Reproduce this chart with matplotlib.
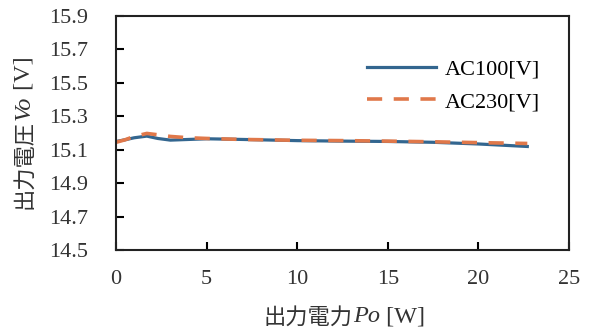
import matplotlib.pyplot as plt
from matplotlib.transforms import IdentityTransform
from matplotlib.font_manager import FontProperties

plt.rcParams['font.family'] = ['Liberation Serif', 'Noto Sans CJK JP']

# AC100[V]
po_100 = [0, 0.5, 1.0, 1.7, 2.3, 3.0, 4.0, 5.0, 7.0, 10.0, 12.5, 15.0, 17.5, 20.0, 22.7]
vo_100 = [15.150, 15.160, 15.172, 15.182, 15.168, 15.158, 15.162, 15.166, 15.162, 15.155,
          15.152, 15.150, 15.145, 15.135, 15.120]

# AC230[V]
po_230 = [0, 0.5, 1.0, 1.7, 2.3, 3.0, 4.0, 5.0, 7.0, 10.0, 12.5, 15.0, 17.5, 20.0, 22.7]
vo_230 = [15.145, 15.160, 15.180, 15.198, 15.190, 15.180, 15.172, 15.168, 15.162, 15.157,
          15.155, 15.152, 15.148, 15.143, 15.138]

xticks = [0, 5, 10, 15, 20, 25]
yticks = [14.5, 14.7, 14.9, 15.1, 15.3, 15.5, 15.7, 15.9]

xlabel_parts = [('出力電力', 'cjk'), ('Po', 'it'), (' [W]', 'rm')]
ylabel_parts = [('出力電圧', 'cjk'), ('Vo', 'it'), (' [V]', 'rm')]

fig = plt.figure(figsize=(5.89, 3.34), dpi=100)
ax = fig.add_axes([0.197, 0.251, 0.769, 0.701])

ax.plot(po_100, vo_100, color='#33668F', lw=2.3, label='AC100[V]')
ax.plot(po_230, vo_230, color='#E0784A', lw=2.6, dashes=(4.2, 3.2), label='AC230[V]')

ax.set_xlim(0, 25)
ax.set_ylim(14.5, 15.9)
ax.set_xticks(xticks)
ax.set_yticks(yticks)
ax.set_yticklabels([f'{v:.1f}' for v in yticks])
ax.tick_params(direction='in', length=6, width=1.5, labelsize=16, labelcolor='#333333')
ax.tick_params(axis='y', pad=20)
ax.tick_params(axis='x', pad=14)
for s in ax.spines.values():
    s.set_linewidth(1.5)
    s.set_color('#222222')

ax.legend(loc='upper left', bbox_to_anchor=(0.53, 0.865), frameon=False, fontsize=16,
          handlelength=3.1, handletextpad=0.4, labelspacing=0.55, borderpad=0)

fonts = {
    'cjk': FontProperties(family='Noto Sans CJK JP', size=16),
    'it': FontProperties(family='Liberation Serif', style='italic', size=17.5),
    'rm': FontProperties(family='Liberation Serif', size=17.5),
}


def label_from_parts(cx, cy, parts, rotation=0):
    # place text pieces with different fonts one after another, centred on (cx, cy) in pixels
    renderer = fig.canvas.get_renderer()
    widths = []
    for s, f in parts:
        t = fig.text(0, 0, s, fontproperties=fonts[f], transform=IdentityTransform())
        widths.append(t.get_window_extent(renderer).width)
        t.remove()
    total = sum(widths)
    pos = -total / 2
    for (s, f), w in zip(parts, widths):
        if rotation == 90:
            x, y = cx, cy + pos
        else:
            x, y = cx + pos, cy
        fig.text(x, y, s, fontproperties=fonts[f], color='#333333', rotation=rotation,
                 rotation_mode='anchor', ha='left', va='center', transform=IdentityTransform())
        pos += w


label_from_parts(344.5, 334 - 317, xlabel_parts)
label_from_parts(24, 334 - 132.5, ylabel_parts, rotation=90)

fig.savefig('out.png', dpi=100)
